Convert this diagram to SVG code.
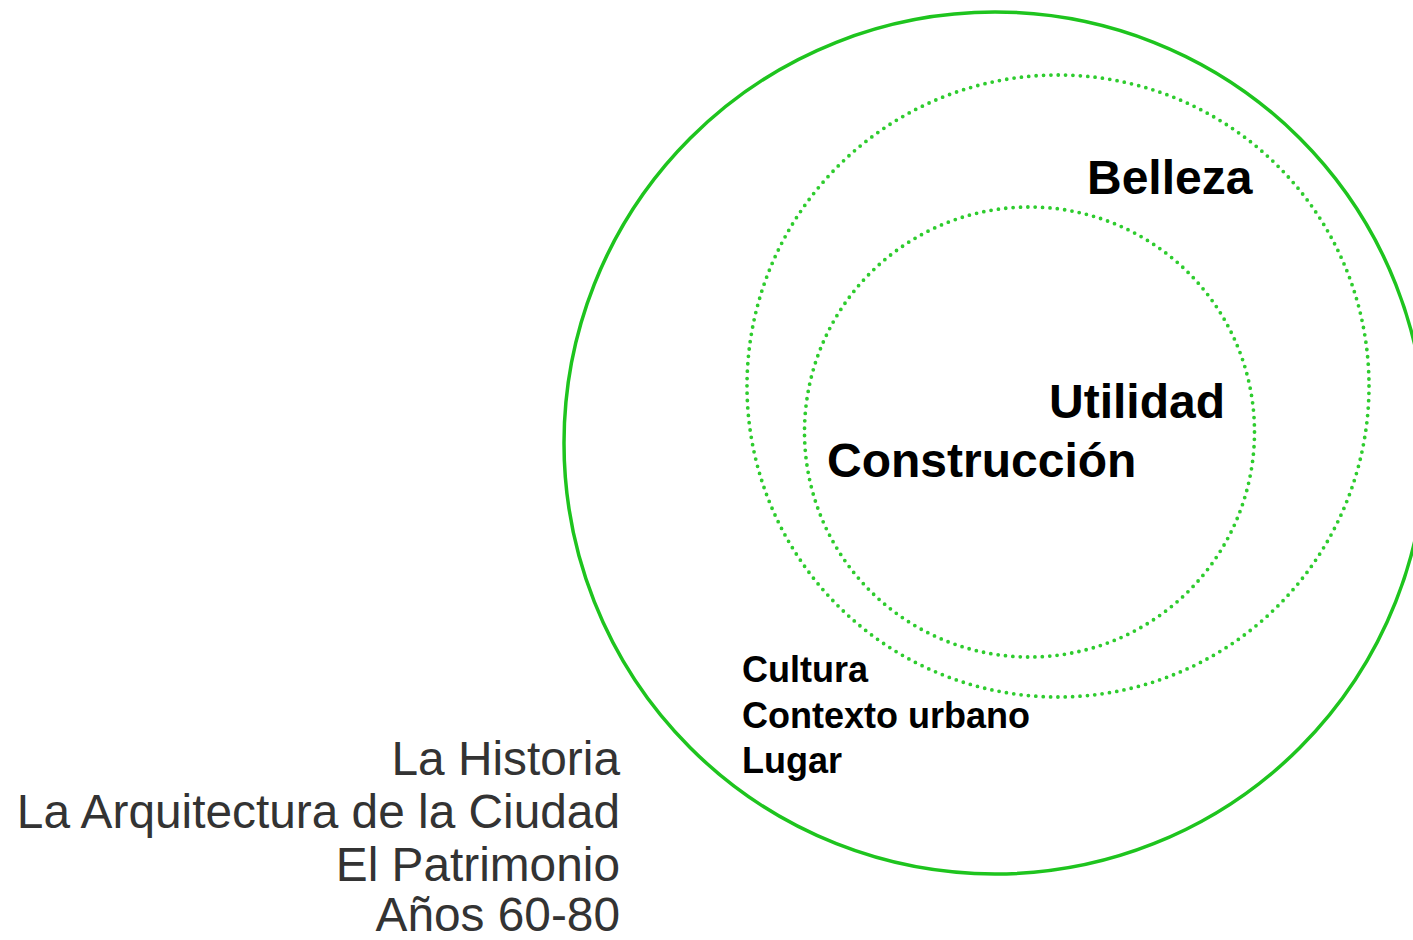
<svg xmlns="http://www.w3.org/2000/svg" width="1413" height="940" viewBox="0 0 1413 940">
<style>
.solid{fill:none;stroke:#1ec41e;stroke-width:3.5}
.dot{fill:none;stroke:#2ecc2e;stroke-width:3.8;stroke-dasharray:0 7.4;stroke-linecap:round}
.big{font-family:"Liberation Sans",Arial,sans-serif;font-weight:bold;font-size:48px;fill:#000}
.small{font-family:"Liberation Sans",Arial,sans-serif;font-weight:bold;font-size:36px;fill:#000}
.left{font-family:"Liberation Sans",Arial,sans-serif;font-size:47.8px;fill:#333;text-anchor:end}
</style>
<rect width="1413" height="940" fill="#fff"/>
<g id="outer-circle"><circle class="solid" cx="995" cy="443" r="431"/></g>
<g id="middle-circle"><circle class="dot" cx="1058" cy="386" r="311"/></g>
<g id="inner-circle"><circle class="dot" cx="1029.5" cy="432" r="225"/></g>
<g id="belleza"><text class="big" x="1087" y="194">Belleza</text></g>
<g id="utilidad"><text class="big" x="1049" y="418">Utilidad</text></g>
<g id="construccion"><text class="big" x="827" y="477">Construcción</text></g>
<g id="context-labels">
<text class="small" x="742" y="682">Cultura</text>
<text class="small" x="742" y="728">Contexto urbano</text>
<text class="small" x="742" y="773">Lugar</text>
</g>
<g id="left-labels">
<text class="left" x="620" y="775">La Historia</text>
<text class="left" x="620" y="828">La Arquitectura de la Ciudad</text>
<text class="left" x="620" y="881">El Patrimonio</text>
<text class="left" x="620" y="931">Años 60-80</text>
</g>
<g id="connectors"/>
</svg>
